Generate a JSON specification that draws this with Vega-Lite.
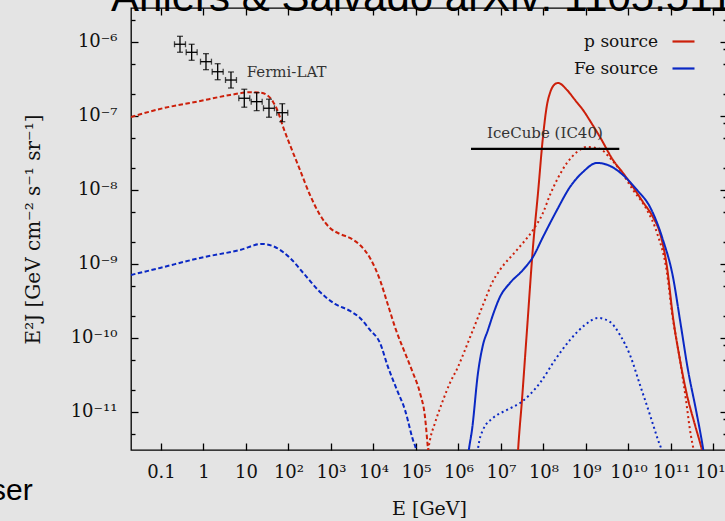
{
  "$schema": "https://vega.github.io/schema/vega-lite/v6.json",
  "width": 596,
  "height": 442,
  "autosize": "none",
  "padding": {"left": 131, "top": 8, "right": 0, "bottom": 71},
  "background": "#e4e4e4",
  "datasets": {
    "curves": [
      {"source":"p source","component":"gamma","E":0.0197,"flux":9.66e-8},
      {"source":"p source","component":"gamma","E":0.1114,"flux":1.268e-7},
      {"source":"p source","component":"gamma","E":0.703,"flux":1.556e-7},
      {"source":"p source","component":"gamma","E":4.207,"flux":1.914e-7},
      {"source":"p source","component":"gamma","E":12.42,"flux":2.084e-7},
      {"source":"p source","component":"gamma","E":21.33,"flux":2.061e-7},
      {"source":"p source","component":"gamma","E":31.19,"flux":1.914e-7},
      {"source":"p source","component":"gamma","E":43.15,"flux":1.556e-7},
      {"source":"p source","component":"gamma","E":56.62,"flux":1.14e-7},
      {"source":"p source","component":"gamma","E":74.3,"flux":7.145e-8},
      {"source":"p source","component":"gamma","E":108.4,"flux":4.046e-8},
      {"source":"p source","component":"gamma","E":186.6,"flux":1.858e-8},
      {"source":"p source","component":"gamma","E":320.6,"flux":8.531e-9},
      {"source":"p source","component":"gamma","E":550.8,"flux":4.581e-9},
      {"source":"p source","component":"gamma","E":946.2,"flux":3.055e-9},
      {"source":"p source","component":"gamma","E":1629,"flux":2.535e-9},
      {"source":"p source","component":"gamma","E":2799,"flux":2.239e-9},
      {"source":"p source","component":"gamma","E":4808,"flux":1.799e-9},
      {"source":"p source","component":"gamma","E":8279,"flux":1.202e-9},
      {"source":"p source","component":"gamma","E":14223,"flux":6.053e-10},
      {"source":"p source","component":"gamma","E":21928,"flux":2.78e-10},
      {"source":"p source","component":"gamma","E":33810,"flux":1.279e-10},
      {"source":"p source","component":"gamma","E":55081,"flux":6.252e-11},
      {"source":"p source","component":"gamma","E":84918,"flux":3.357e-11},
      {"source":"p source","component":"gamma","E":124170,"flux":1.799e-11},
      {"source":"p source","component":"gamma","E":162930,"flux":8.531e-12},
      {"source":"p source","component":"gamma","E":191430,"flux":3.148e-12},
      {"source":"p source","component":"gamma","E":213300,"flux":1.622e-12},

      {"source":"Fe source","component":"gamma","E":0.0197,"flux":7.079e-10},
      {"source":"Fe source","component":"gamma","E":0.0946,"flux":8.81e-10},
      {"source":"Fe source","component":"gamma","E":0.828,"flux":1.202e-9},
      {"source":"Fe source","component":"gamma","E":7.228,"flux":1.542e-9},
      {"source":"Fe source","component":"gamma","E":23.77,"flux":1.858e-9},
      {"source":"Fe source","component":"gamma","E":48.08,"flux":1.69e-9},
      {"source":"Fe source","component":"gamma","E":108.4,"flux":1.202e-9},
      {"source":"Fe source","component":"gamma","E":244.3,"flux":7.079e-10},
      {"source":"Fe source","component":"gamma","E":550.8,"flux":4.169e-10},
      {"source":"Fe source","component":"gamma","E":1242,"flux":2.871e-10},
      {"source":"Fe source","component":"gamma","E":2799,"flux":2.312e-10},
      {"source":"Fe source","component":"gamma","E":4808,"flux":1.858e-10},
      {"source":"Fe source","component":"gamma","E":8279,"flux":1.279e-10},
      {"source":"Fe source","component":"gamma","E":14223,"flux":8.531e-11},
      {"source":"Fe source","component":"gamma","E":21928,"flux":4.046e-11},
      {"source":"Fe source","component":"gamma","E":35730,"flux":1.977e-11},
      {"source":"Fe source","component":"gamma","E":55081,"flux":1.062e-11},
      {"source":"Fe source","component":"gamma","E":84918,"flux":4.169e-12},
      {"source":"Fe source","component":"gamma","E":100000,"flux":3.155e-12},
      {"source":"Fe source","component":"gamma","E":117760,"flux":1.905e-12},

      {"source":"p source","component":"nu1","E":171800,"flux":1.914e-12},
      {"source":"p source","component":"nu1","E":213300,"flux":4.169e-12},
      {"source":"p source","component":"nu1","E":279900,"flux":7.079e-12},
      {"source":"p source","component":"nu1","E":409300,"flux":1.318e-11},
      {"source":"p source","component":"nu1","E":630960,"flux":2.46e-11},
      {"source":"p source","component":"nu1","E":972700,"flux":4.046e-11},
      {"source":"p source","component":"nu1","E":1422000,"flux":6.855e-11},
      {"source":"p source","component":"nu1","E":2193000,"flux":1.279e-10},
      {"source":"p source","component":"nu1","E":4207000,"flux":3.251e-10},
      {"source":"p source","component":"nu1","E":6138000,"flux":5.521e-10},
      {"source":"p source","component":"nu1","E":9462000,"flux":8.279e-10},
      {"source":"p source","component":"nu1","E":2.377e7,"flux":1.542e-9},
      {"source":"p source","component":"nu1","E":5.662e7,"flux":2.871e-9},
      {"source":"p source","component":"nu1","E":9.727e7,"flux":4.875e-9},
      {"source":"p source","component":"nu1","E":1.422e8,"flux":8.531e-9},
      {"source":"p source","component":"nu1","E":2.193e8,"flux":1.449e-8},
      {"source":"p source","component":"nu1","E":3.573e8,"flux":2.312e-8},
      {"source":"p source","component":"nu1","E":6.138e8,"flux":3.251e-8},
      {"source":"p source","component":"nu1","E":1.057e9,"flux":3.802e-8},
      {"source":"p source","component":"nu1","E":2.133e9,"flux":3.573e-8},
      {"source":"p source","component":"nu1","E":3.673e9,"flux":2.698e-8},
      {"source":"p source","component":"nu1","E":6.31e9,"flux":1.858e-8},
      {"source":"p source","component":"nu1","E":1.276e10,"flux":9.977e-9},
      {"source":"p source","component":"nu1","E":2.723e10,"flux":5.346e-9},
      {"source":"p source","component":"nu1","E":4.688e10,"flux":2.618e-9},
      {"source":"p source","component":"nu1","E":8.054e10,"flux":7.534e-10},
      {"source":"p source","component":"nu1","E":1.057e11,"flux":2.168e-10},
      {"source":"p source","component":"nu1","E":1.629e11,"flux":5.023e-11},
      {"source":"p source","component":"nu1","E":2.254e11,"flux":1.449e-11},
      {"source":"p source","component":"nu1","E":2.799e11,"flux":5.689e-12},
      {"source":"p source","component":"nu1","E":3.475e11,"flux":2.871e-12},
      {"source":"p source","component":"nu1","E":4.093e11,"flux":1.641e-12},

      {"source":"p source","component":"nu2","E":2.377e7,"flux":1.641e-12},
      {"source":"p source","component":"nu2","E":2.512e7,"flux":2.877e-12},
      {"source":"p source","component":"nu2","E":3.119e7,"flux":1.449e-11},
      {"source":"p source","component":"nu2","E":4.093e7,"flux":1.279e-10},
      {"source":"p source","component":"nu2","E":5.662e7,"flux":1.69e-9},
      {"source":"p source","component":"nu2","E":7.43e7,"flux":9.078e-9},
      {"source":"p source","component":"nu2","E":9.727e7,"flux":5.188e-8},
      {"source":"p source","component":"nu2","E":1.208e8,"flux":1.403e-7},
      {"source":"p source","component":"nu2","E":1.422e8,"flux":2.037e-7},
      {"source":"p source","component":"nu2","E":1.766e8,"flux":2.618e-7},
      {"source":"p source","component":"nu2","E":2.193e8,"flux":2.786e-7},
      {"source":"p source","component":"nu2","E":3.573e8,"flux":2.239e-7},
      {"source":"p source","component":"nu2","E":5.508e8,"flux":1.641e-7},
      {"source":"p source","component":"nu2","E":8.492e8,"flux":1.202e-7},
      {"source":"p source","component":"nu2","E":1.384e9,"flux":7.78e-8},
      {"source":"p source","component":"nu2","E":2.133e9,"flux":5.188e-8},
      {"source":"p source","component":"nu2","E":4.315e9,"flux":2.535e-8},
      {"source":"p source","component":"nu2","E":7.43e9,"flux":1.69e-8},
      {"source":"p source","component":"nu2","E":1.276e10,"flux":1.094e-8},
      {"source":"p source","component":"nu2","E":2.193e10,"flux":6.855e-9},
      {"source":"p source","component":"nu2","E":3.767e10,"flux":4.285e-9},
      {"source":"p source","component":"nu2","E":5.508e10,"flux":2.606e-9},
      {"source":"p source","component":"nu2","E":8.054e10,"flux":9.057e-10},
      {"source":"p source","component":"nu2","E":1.114e11,"flux":1.914e-10},
      {"source":"p source","component":"nu2","E":1.629e11,"flux":5.023e-11},
      {"source":"p source","component":"nu2","E":2.377e11,"flux":1.69e-11},
      {"source":"p source","component":"nu2","E":3.673e11,"flux":6.637e-12},
      {"source":"p source","component":"nu2","E":5.358e11,"flux":3.055e-12},
      {"source":"p source","component":"nu2","E":6.668e11,"flux":1.746e-12},

      {"source":"Fe source","component":"nu2","E":1585000,"flux":1.914e-12},
      {"source":"Fe source","component":"nu2","E":1766000,"flux":3.148e-12},
      {"source":"Fe source","component":"nu2","E":2080000,"flux":5.689e-12},
      {"source":"Fe source","component":"nu2","E":2877000,"flux":3.357e-11},
      {"source":"Fe source","component":"nu2","E":3767000,"flux":8.017e-11},
      {"source":"Fe source","component":"nu2","E":4943000,"flux":1.279e-10},
      {"source":"Fe source","component":"nu2","E":6839000,"flux":2.239e-10},
      {"source":"Fe source","component":"nu2","E":9462000,"flux":3.573e-10},
      {"source":"Fe source","component":"nu2","E":1.629e7,"flux":5.521e-10},
      {"source":"Fe source","component":"nu2","E":3.296e7,"flux":8.279e-10},
      {"source":"Fe source","component":"nu2","E":5.662e7,"flux":1.239e-9},
      {"source":"Fe source","component":"nu2","E":9.727e7,"flux":2.307e-9},
      {"source":"Fe source","component":"nu2","E":2.08e8,"flux":5.346e-9},
      {"source":"Fe source","component":"nu2","E":4.207e8,"flux":1.094e-8},
      {"source":"Fe source","component":"nu2","E":8.492e8,"flux":1.746e-8},
      {"source":"Fe source","component":"nu2","E":1.816e9,"flux":2.312e-8},
      {"source":"Fe source","component":"nu2","E":3.673e9,"flux":2.104e-8},
      {"source":"Fe source","component":"nu2","E":7.43e9,"flux":1.589e-8},
      {"source":"Fe source","component":"nu2","E":1.585e10,"flux":9.977e-9},
      {"source":"Fe source","component":"nu2","E":3.206e10,"flux":5.875e-9},
      {"source":"Fe source","component":"nu2","E":6.486e10,"flux":2.104e-9},
      {"source":"Fe source","component":"nu2","E":1.114e11,"flux":6.653e-10},
      {"source":"Fe source","component":"nu2","E":1.629e11,"flux":1.746e-10},
      {"source":"Fe source","component":"nu2","E":2.512e11,"flux":3.681e-11},
      {"source":"Fe source","component":"nu2","E":3.873e11,"flux":1.062e-11},
      {"source":"Fe source","component":"nu2","E":5.662e11,"flux":3.251e-12},
      {"source":"Fe source","component":"nu2","E":6.668e11,"flux":1.746e-12},

      {"source":"Fe source","component":"nu1","E":2582000,"flux":1.746e-12},
      {"source":"Fe source","component":"nu1","E":2877000,"flux":3.148e-12},
      {"source":"Fe source","component":"nu1","E":3767000,"flux":5.689e-12},
      {"source":"Fe source","component":"nu1","E":6486000,"flux":8.26e-12},
      {"source":"Fe source","component":"nu1","E":1.384e7,"flux":1.062e-11},
      {"source":"Fe source","component":"nu1","E":2.799e7,"flux":1.318e-11},
      {"source":"Fe source","component":"nu1","E":8.279e7,"flux":2.46e-11},
      {"source":"Fe source","component":"nu1","E":1.866e8,"flux":5.023e-11},
      {"source":"Fe source","component":"nu1","E":4.207e8,"flux":9.376e-11},
      {"source":"Fe source","component":"nu1","E":9.462e8,"flux":1.493e-10},
      {"source":"Fe source","component":"nu1","E":1.914e9,"flux":1.858e-10},
      {"source":"Fe source","component":"nu1","E":3.673e9,"flux":1.641e-10},
      {"source":"Fe source","component":"nu1","E":6.31e9,"flux":1.094e-10},
      {"source":"Fe source","component":"nu1","E":1.084e10,"flux":5.875e-11},
      {"source":"Fe source","component":"nu1","E":1.866e10,"flux":2.312e-11},
      {"source":"Fe source","component":"nu1","E":3.206e10,"flux":9.078e-12},
      {"source":"Fe source","component":"nu1","E":4.943e10,"flux":4.169e-12},
      {"source":"Fe source","component":"nu1","E":6.138e10,"flux":2.877e-12},
      {"source":"Fe source","component":"nu1","E":7.228e10,"flux":1.641e-12}
    ],
    "fermi": [
      {"E":0.28,"Elo":0.208,"Ehi":0.377,"flux":9.29e-7,"lo":7.24e-7,"hi":1.19e-6},
      {"E":0.527,"Elo":0.392,"Ehi":0.709,"flux":7.23e-7,"lo":5.64e-7,"hi":9.28e-7},
      {"E":1.145,"Elo":0.851,"Ehi":1.541,"flux":5.4e-7,"lo":4.21e-7,"hi":6.93e-7},
      {"E":2.158,"Elo":1.603,"Ehi":2.905,"flux":3.95e-7,"lo":3.08e-7,"hi":5.07e-7},
      {"E":4.436,"Elo":3.296,"Ehi":5.971,"flux":3.05e-7,"lo":2.38e-7,"hi":3.92e-7},
      {"E":9.12,"Elo":6.78,"Ehi":12.28,"flux":1.73e-7,"lo":1.31e-7,"hi":2.29e-7},
      {"E":17.86,"Elo":13.27,"Ehi":24.04,"flux":1.556e-7,"lo":1.175e-7,"hi":2.06e-7},
      {"E":34.77,"Elo":25.83,"Ehi":46.8,"flux":1.268e-7,"lo":9.58e-8,"hi":1.68e-7},
      {"E":71.45,"Elo":53.08,"Ehi":96.17,"flux":1.104e-7,"lo":8.34e-8,"hi":1.46e-7}
    ],
    "icecube": [{"Emin":1.97e6,"Emax":6.08e9,"flux":3.57e-8}]
  },
  "layer": [
    {
      "data": {"name": "curves"},
      "mark": {"type": "line", "strokeWidth": 2, "clip": true, "interpolate": "monotone"},
      "encoding": {
        "x": {"field": "E", "type": "quantitative",
          "scale": {"type": "log", "domain": [0.0197, 2.08e12], "nice": false},
          "axis": {"orient": "bottom", "values": [0.1,1,10,100,1000,10000,100000,1000000,10000000,100000000,1000000000,10000000000,100000000000,1000000000000],
            "labelExpr": "datum.value==0.1?'0.1':datum.value==1?'1':datum.value==10?'10':datum.value==100?'10²':datum.value==1000?'10³':datum.value==1e4?'10⁴':datum.value==1e5?'10⁵':datum.value==1e6?'10⁶':datum.value==1e7?'10⁷':datum.value==1e8?'10⁸':datum.value==1e9?'10⁹':datum.value==1e10?'10¹⁰':datum.value==1e11?'10¹¹':datum.value==1e12?'10¹²':''",
            "tickSize": -7, "labelPadding": 20, "labelOverlap": false, "labelFlush": false,
            "title": "E [GeV]", "titleX": 298, "titleY": 58, "titleBaseline": "middle", "titleAlign": "center", "titleFontSize": 19}},
        "y": {"field": "flux", "type": "quantitative",
          "scale": {"type": "log", "domain": [3.05e-12, 2.87e-6], "nice": false},
          "axis": {"orient": "left", "values": [5e-12,1e-11,2e-11,5e-11,1e-10,2e-10,5e-10,1e-9,2e-9,5e-9,1e-8,2e-8,5e-8,1e-7,2e-7,5e-7,1e-6,2e-6],
            "labelExpr": "datum.value==1e-6?'10⁻⁶':datum.value==1e-7?'10⁻⁷':datum.value==1e-8?'10⁻⁸':datum.value==1e-9?'10⁻⁹':datum.value==1e-10?'10⁻¹⁰':datum.value==1e-11?'10⁻¹¹':''",
            "tickSize": {"condition": {"test": "abs(log(datum.value)/LN10 - round(log(datum.value)/LN10)) < 0.01", "value": -7}, "value": -4},
            "labelPadding": 21, "labelOverlap": false, "labelFlush": false,
            "title": "E²J [GeV cm⁻² s⁻¹ sr⁻¹]", "titleAngle": -90, "titleX": -98, "titleY": 221, "titleBaseline": "middle", "titleAlign": "center", "titleFontSize": 20}},
        "color": {"field": "source", "type": "nominal",
          "scale": {"domain": ["p source", "Fe source"], "range": ["#cc1f0a", "#0a28c4"]},
          "legend": {"orient": "none", "legendX": 540, "legendY": 21, "title": null, "labelAlign": "right", "labelOffset": -38,
            "symbolType": "stroke", "symbolSize": 484, "symbolStrokeWidth": 2.2, "labelFont": "DejaVu Serif", "labelFontSize": 17,
            "labelColor": "#111", "rowPadding": 6, "padding": 0}},
        "strokeDash": {"field": "component", "type": "nominal",
          "scale": {"domain": ["gamma", "nu1", "nu2"], "range": [[4.5, 2.5], [2, 3], [1, 0]]},
          "legend": null}
      }
    },
    {
      "data": {"name": "icecube"},
      "mark": {"type": "rule", "color": "black", "strokeWidth": 2.2},
      "encoding": {
        "x": {"field": "Emin", "type": "quantitative",
          "scale": {"type": "log", "domain": [0.0197, 2.08e12], "nice": false},
          "axis": {"orient": "top", "values": [0.1,1,10,100,1000,10000,100000,1000000,10000000,100000000,1000000000,10000000000,100000000000,1000000000000],
            "labels": false, "tickSize": -7, "title": null}},
        "x2": {"field": "Emax"},
        "y": {"field": "flux", "type": "quantitative",
          "scale": {"type": "log", "domain": [3.05e-12, 2.87e-6], "nice": false},
          "axis": {"orient": "right", "values": [5e-12,8e-12,1e-11,2e-11,5e-11,8e-11,1e-10,2e-10,5e-10,8e-10,1e-9,2e-9,5e-9,8e-9,1e-8,2e-8,5e-8,8e-8,1e-7,2e-7,5e-7,8e-7,1e-6,2e-6],
            "labels": false, "title": null,
            "tickSize": {"condition": {"test": "abs(log(datum.value)/LN10 - round(log(datum.value)/LN10)) < 0.01", "value": -7}, "value": -4}}}
      }
    },
    {
      "data": {"name": "fermi"},
      "mark": {"type": "errorbar", "ticks": {"size": 6}, "thickness": 1.3, "color": "black"},
      "encoding": {
        "x": {"field": "Elo", "type": "quantitative", "scale": {"type": "log", "domain": [0.0197, 2.08e12], "nice": false}, "axis": null},
        "x2": {"field": "Ehi"},
        "y": {"field": "flux", "type": "quantitative", "scale": {"type": "log", "domain": [3.05e-12, 2.87e-6], "nice": false}, "axis": null}
      }
    },
    {
      "data": {"name": "fermi"},
      "mark": {"type": "errorbar", "ticks": {"size": 6}, "thickness": 1.3, "color": "black"},
      "encoding": {
        "x": {"field": "E", "type": "quantitative", "scale": {"type": "log", "domain": [0.0197, 2.08e12], "nice": false}, "axis": null},
        "y": {"field": "lo", "type": "quantitative", "scale": {"type": "log", "domain": [3.05e-12, 2.87e-6], "nice": false}, "axis": null},
        "y2": {"field": "hi"}
      }
    },
    {
      "data": {"values": [{"label": "Fermi-LAT", "E": 10.4, "flux": 3.88e-7}]},
      "mark": {"type": "text", "font": "DejaVu Serif", "fontSize": 15, "color": "#333", "baseline": "middle", "align": "left"},
      "encoding": {
        "x": {"field": "E", "type": "quantitative", "scale": {"type": "log", "domain": [0.0197, 2.08e12], "nice": false}, "axis": null},
        "y": {"field": "flux", "type": "quantitative", "scale": {"type": "log", "domain": [3.05e-12, 2.87e-6], "nice": false}, "axis": null},
        "text": {"field": "label"}
      }
    },
    {
      "data": {"values": [{"label": "IceCube (IC40)", "E": 1.08e8, "flux": 5.87e-8}]},
      "mark": {"type": "text", "font": "DejaVu Serif", "fontSize": 15, "color": "#333", "baseline": "middle", "align": "center"},
      "encoding": {
        "x": {"field": "E", "type": "quantitative", "scale": {"type": "log", "domain": [0.0197, 2.08e12], "nice": false}, "axis": null},
        "y": {"field": "flux", "type": "quantitative", "scale": {"type": "log", "domain": [3.05e-12, 2.87e-6], "nice": false}, "axis": null},
        "text": {"field": "label"}
      }
    },
    {
      "data": {"values": [{"label": "ser"}]},
      "mark": {"type": "text", "font": "Liberation Sans", "fontSize": 30, "color": "black", "align": "left", "baseline": "alphabetic", "clip": false},
      "encoding": {
        "x": {"datum": 1.0e-5, "type": "quantitative", "scale": {"type": "log", "domain": [0.0197, 2.08e12], "nice": false}, "axis": null},
        "y": {"datum": 6.46e-13, "type": "quantitative", "scale": {"type": "log", "domain": [3.05e-12, 2.87e-6], "nice": false}, "axis": null},
        "text": {"field": "label"}
      }
    },
    {
      "data": {"values": [{"label": "Ahlers & Salvado arXiv: 1105.5111"}]},
      "mark": {"type": "text", "font": "Liberation Sans", "fontSize": 42, "color": "black", "align": "left", "baseline": "alphabetic", "clip": false},
      "encoding": {
        "x": {"datum": 6.67e-3, "type": "quantitative", "scale": {"type": "log", "domain": [0.0197, 2.08e12], "nice": false}, "axis": null},
        "y": {"datum": 2.58e-6, "type": "quantitative", "scale": {"type": "log", "domain": [3.05e-12, 2.87e-6], "nice": false}, "axis": null},
        "text": {"field": "label"}
      }
    }
  ],
  "resolve": {"scale": {"x": "shared", "y": "shared"}, "axis": {"x": "independent", "y": "independent"}},
  "config": {
    "view": {"stroke": "black", "strokeWidth": 1.3},
    "legend": {"labelFont": "DejaVu Serif", "labelFontSize": 17},
    "axis": {"domain": false, "grid": false, "tickColor": "black", "tickWidth": 1.3,
      "labelFont": "DejaVu Serif", "labelFontSize": 18, "labelColor": "#111",
      "titleFont": "DejaVu Serif", "titleFontSize": 19, "titleFontWeight": "normal", "titleColor": "#111"}
  }
}
